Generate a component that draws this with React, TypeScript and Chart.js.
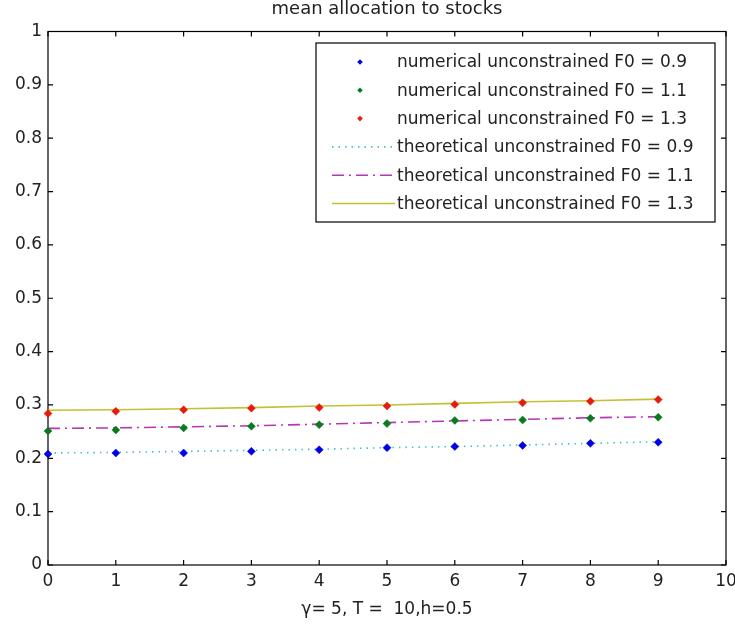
import React, { useEffect, useRef } from 'react';
import { Chart, registerables } from 'chart.js';

Chart.register(...registerables);

const steps = [0, 1, 2, 3, 4, 5, 6, 7, 8, 9];

const numerical09 = [0.208, 0.210, 0.210, 0.213, 0.216, 0.220, 0.222, 0.224, 0.228, 0.230];
const numerical11 = [0.251, 0.253, 0.257, 0.260, 0.263, 0.265, 0.271, 0.272, 0.275, 0.277];
const numerical13 = [0.284, 0.288, 0.291, 0.294, 0.295, 0.298, 0.301, 0.304, 0.307, 0.310];

const theoretical09 = [0.210, 0.211, 0.213, 0.215, 0.217, 0.220, 0.222, 0.225, 0.228, 0.231];
const theoretical11 = [0.256, 0.257, 0.259, 0.261, 0.264, 0.267, 0.270, 0.273, 0.276, 0.278];
const theoretical13 = [0.290, 0.291, 0.293, 0.295, 0.298, 0.300, 0.303, 0.306, 0.308, 0.311];

const seriesLabels = [
  'numerical unconstrained F0 = 0.9',
  'numerical unconstrained F0 = 1.1',
  'numerical unconstrained F0 = 1.3',
  'theoretical unconstrained F0 = 0.9',
  'theoretical unconstrained F0 = 1.1',
  'theoretical unconstrained F0 = 1.3',
];

const titleText = 'mean allocation to stocks';
const xTitleText = 'γ= 5, T =  10,h=0.5';

const FONT = "'DejaVu Sans', sans-serif";
const TEXT = '#222222';

const toPts = (ys: number[]) => steps.map((x, i) => ({ x, y: ys[i] }));

function diamond(ctx: CanvasRenderingContext2D, x: number, y: number, r: number, color: string) {
  ctx.save();
  ctx.fillStyle = color;
  ctx.beginPath();
  ctx.moveTo(x, y - r);
  ctx.lineTo(x + r, y);
  ctx.lineTo(x, y + r);
  ctx.lineTo(x - r, y);
  ctx.closePath();
  ctx.fill();
  ctx.restore();
}

const boxPlugin = {
  id: 'matlabBox',
  beforeDatasetsDraw(chart: any) {
    const { ctx, chartArea: a, scales } = chart;
    ctx.save();
    ctx.strokeStyle = '#000';
    ctx.lineWidth = 1.2;
    ctx.strokeRect(a.left, a.top, a.right - a.left, a.bottom - a.top);
    const tl = 5;
    ctx.beginPath();
    scales.x.ticks.forEach((t: any) => {
      const px = scales.x.getPixelForValue(t.value);
      ctx.moveTo(px, a.bottom);
      ctx.lineTo(px, a.bottom - tl);
      ctx.moveTo(px, a.top);
      ctx.lineTo(px, a.top + tl);
    });
    scales.y.ticks.forEach((t: any) => {
      const py = scales.y.getPixelForValue(t.value);
      ctx.moveTo(a.left, py);
      ctx.lineTo(a.left + tl, py);
      ctx.moveTo(a.right, py);
      ctx.lineTo(a.right - tl, py);
    });
    ctx.stroke();
    ctx.restore();
  },
};

const legendPlugin = {
  id: 'matlabLegend',
  afterDraw(chart: any) {
    const { ctx } = chart;
    const bx = 316, by = 43, bw = 399, bh = 179;
    ctx.save();
    ctx.fillStyle = '#fff';
    ctx.fillRect(bx, by, bw, bh);
    ctx.strokeStyle = '#000';
    ctx.lineWidth = 1.2;
    ctx.strokeRect(bx, by, bw, bh);
    const ds = chart.data.datasets;
    ds.forEach((d: any, i: number) => {
      const y = 62 + i * 28.3;
      if (d.showLine === false) {
        diamond(ctx, 360, y, 2.8, d.pointBackgroundColor);
      } else {
        ctx.save();
        ctx.strokeStyle = d.borderColor;
        ctx.lineWidth = d.borderWidth;
        ctx.setLineDash(d.borderDash || []);
        ctx.beginPath();
        ctx.moveTo(332, y);
        ctx.lineTo(395, y);
        ctx.stroke();
        ctx.restore();
      }
      ctx.fillStyle = TEXT;
      ctx.font = `17px ${FONT}`;
      ctx.textAlign = 'left';
      ctx.textBaseline = 'middle';
      ctx.fillText(d.label, 397, y + 1);
    });
    ctx.restore();
  },
};

export default function App() {
  const ref = useRef<HTMLCanvasElement>(null);

  useEffect(() => {
    if (!ref.current) return;
    const markerDs = (label: string, ys: number[], color: string) => ({
      label,
      data: toPts(ys),
      showLine: false,
      pointStyle: 'rectRot',
      pointRadius: 4,
      pointBackgroundColor: color,
      pointBorderColor: color,
      pointBorderWidth: 0.5,
      borderColor: color,
      backgroundColor: color,
      clip: false as any,
    });
    const lineDs = (label: string, ys: number[], color: string, dash: number[]) => ({
      label,
      data: toPts(ys),
      showLine: true,
      borderColor: color,
      backgroundColor: color,
      borderWidth: 1.6,
      borderDash: dash,
      pointRadius: 0,
      tension: 0,
      clip: false as any,
    });
    const chart = new Chart(ref.current, {
      type: 'scatter',
      data: {
        datasets: [
          markerDs(seriesLabels[0], numerical09, '#0000e6'),
          markerDs(seriesLabels[1], numerical11, '#0a7a1e'),
          markerDs(seriesLabels[2], numerical13, '#e81a0a'),
          lineDs(seriesLabels[3], theoretical09, '#3fc4c4', [1.5, 5]),
          lineDs(seriesLabels[4], theoretical11, '#b437b4', [12, 5, 2, 5]),
          lineDs(seriesLabels[5], theoretical13, '#c4c032', []),
        ] as any,
      },
      options: {
        animation: false,
        responsive: true,
        maintainAspectRatio: false,
        layout: { padding: { left: 0, right: 9, top: 0, bottom: 0 } },
        font: { family: FONT },
        plugins: {
          legend: { display: false },
          tooltip: { enabled: false },
          title: {
            display: true,
            text: titleText,
            fullSize: false,
            color: TEXT,
            font: { family: FONT, size: 18, weight: 'normal', lineHeight: 1 },
            padding: { top: 0, bottom: 13.5 },
          },
        },
        scales: {
          x: {
            type: 'linear',
            min: 0,
            max: 10,
            ticks: { stepSize: 1, padding: 6, color: TEXT, font: { family: FONT, size: 17 } },
            grid: { display: false, drawTicks: false },
            border: { display: false },
            title: {
              display: true,
              text: xTitleText,
              color: TEXT,
              font: { family: FONT, size: 17, lineHeight: 1 },
              padding: { top: 0, bottom: 8.5 },
            },
            afterFit: (s: any) => { s.height = 62; s.paddingLeft = 0; s.paddingRight = 0; },
          },
          y: {
            type: 'linear',
            min: 0,
            max: 1,
            ticks: {
              stepSize: 0.1,
              padding: 6,
              color: TEXT,
              font: { family: FONT, size: 17 },
              callback: (v: any) => String(Math.round(Number(v) * 10) / 10),
            },
            grid: { display: false, drawTicks: false },
            border: { display: false },
            afterFit: (s: any) => { s.width = 48; s.paddingTop = 0; s.paddingBottom = 0; },
          },
        },
      } as any,
      plugins: [boxPlugin, legendPlugin],
    });
    return () => chart.destroy();
  }, []);

  return (
    <div style={{ position: 'fixed', left: 0, top: 0, width: 735, height: 627, background: '#fff' }}>
      <canvas ref={ref} />
    </div>
  );
}
